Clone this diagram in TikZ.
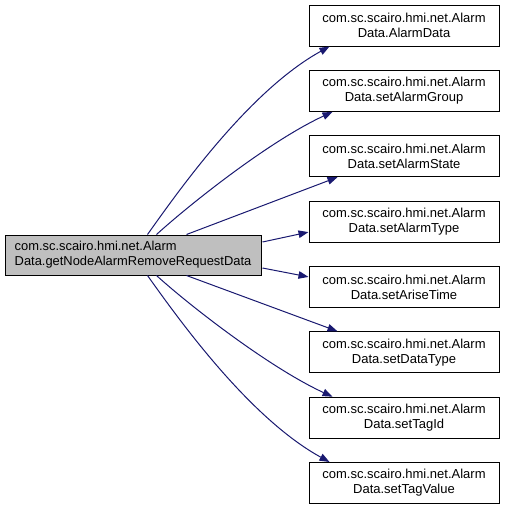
\documentclass[tikz,border=0pt]{standalone}
\usepackage{fontspec}
\setmainfont{Liberation Sans}
\usetikzlibrary{arrows.meta,calc}
\definecolor{edgeblue}{RGB}{25,25,112}
\definecolor{srcgray}{RGB}{191,191,191}
\tikzset{
  fnbox/.style={draw=black, line width=1pt, rectangle, minimum width=190pt, minimum height=41pt,
    inner sep=0pt, align=center, font=\fontsize{13pt}{15pt}\selectfont},
  srcbox/.style={draw=black, fill=srcgray, line width=1pt, rectangle, minimum width=256pt, minimum height=40pt,
    inner sep=0pt, align=left, font=\fontsize{12.9pt}{15pt}\selectfont},
  calledge/.style={draw=edgeblue, line width=1pt, -{Triangle[length=10pt,width=7.5pt]}},
}
\begin{document}
\begin{tikzpicture}[x=1pt,y=-1pt]
\useasboundingbox (0,0) rectangle (504,509);
\node[srcbox] (src) at (133,255) {com.sc.scairo.hmi.net.Alarm\\Data.getNodeAlarmRemoveRequestData};
\node[fnbox] (t1) at (404,25.5) {com.sc.scairo.hmi.net.Alarm\\Data.AlarmData};
\node[fnbox] (t2) at (404,90.9) {com.sc.scairo.hmi.net.Alarm\\Data.setAlarmGroup};
\node[fnbox] (t3) at (404,156.2) {com.sc.scairo.hmi.net.Alarm\\Data.setAlarmState};
\node[fnbox] (t4) at (404,221.6) {com.sc.scairo.hmi.net.Alarm\\Data.setAlarmType};
\node[fnbox] (t5) at (404,286.9) {com.sc.scairo.hmi.net.Alarm\\Data.setAriseTime};
\node[fnbox] (t6) at (404,352.3) {com.sc.scairo.hmi.net.Alarm\\Data.setDataType};
\node[fnbox] (t7) at (404,417.7) {com.sc.scairo.hmi.net.Alarm\\Data.setTagId};
\node[fnbox] (t8) at (404,483.0) {com.sc.scairo.hmi.net.Alarm\\Data.setTagValue};

\draw[calledge] ($(src.north west)+(143,0)$) .. controls +(32,-45) and +(-80,44) .. ($(t1.south west)+(21,0)$);
\draw[calledge] ($(src.north west)+(152,0)$) .. controls +(33,-30) and +(-63,29) .. ($(t2.south west)+(24,0)$);
\draw[calledge] ($(src.north west)+(182,0)$) -- ($(t3.south west)+(29,0)$);
\draw[calledge] ($(src.east)+(1,-13)$) -- ($(t4.west)+(0,10.5)$);
\draw[calledge] ($(src.east)+(1,13)$) -- ($(t5.west)+(0,-10)$);
\draw[calledge] ($(src.south west)+(182,0)$) -- ($(t6.north west)+(29,0)$);
\draw[calledge] ($(src.south west)+(152,0)$) .. controls +(33,30) and +(-63,-29) .. ($(t7.north west)+(24,0)$);
\draw[calledge] ($(src.south west)+(143,0)$) .. controls +(32,45) and +(-80,-44) .. ($(t8.north west)+(21,0)$);
\end{tikzpicture}
\end{document}
